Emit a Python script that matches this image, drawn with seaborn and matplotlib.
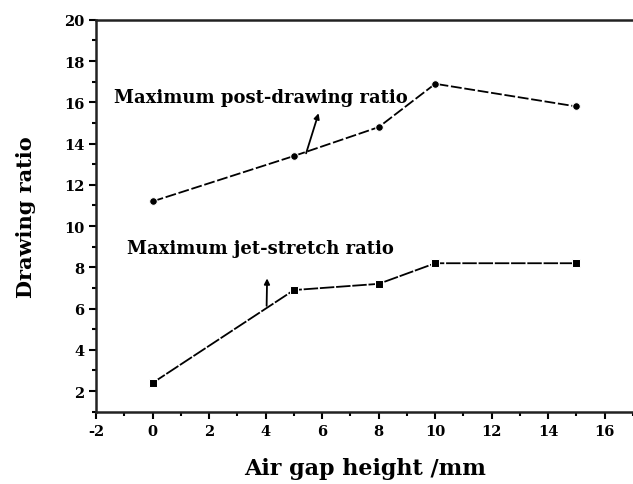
import pandas as pd
import seaborn as sns
import matplotlib.pyplot as plt
from matplotlib.ticker import MultipleLocator

air_gap = [0, 5, 8, 10, 15]
post_drawing = [11.2, 13.4, 14.8, 16.9, 15.8]
jet_stretch = [2.4, 6.9, 7.2, 8.2, 8.2]

df = pd.DataFrame({
    'gap': air_gap * 2,
    'ratio': post_drawing + jet_stretch,
    'series': ['post'] * len(air_gap) + ['jet'] * len(air_gap),
})

sns.set_style('ticks')
plt.rcParams['font.family'] = ['DejaVu Serif']
plt.rcParams['font.weight'] = 'bold'
plt.rcParams['axes.unicode_minus'] = False
plt.rcParams['text.color'] = 'black'
plt.rcParams['axes.labelcolor'] = 'black'
plt.rcParams['xtick.color'] = 'black'
plt.rcParams['ytick.color'] = 'black'

fig = plt.figure(figsize=(6.33, 4.85), dpi=100)
ax = fig.add_axes([0.152, 0.149, 0.848, 0.808])

sns.lineplot(data=df, x='gap', y='ratio', style='series', markers={'post': 'o', 'jet': 's'},
             dashes={'post': (6, 1.5), 'jet': (8, 1)}, color='black', ax=ax,
             markersize=5.5, linewidth=1.3, legend=False)

ax.set_xlim(-2, 17)
ax.set_ylim(1, 20)
ax.xaxis.set_major_locator(MultipleLocator(2))
ax.xaxis.set_minor_locator(MultipleLocator(1))
ax.yaxis.set_minor_locator(MultipleLocator(1))
ax.set_yticks([2, 4, 6, 8, 10, 12, 14, 16, 18, 20])
ax.tick_params(which='major', direction='out', length=5, width=1.5, labelsize=10.5)
ax.tick_params(which='minor', direction='out', length=3, width=1.5)
for s in ['left', 'bottom', 'top']:
    ax.spines[s].set_linewidth(1.8)
    ax.spines[s].set_color('#222222')
ax.spines['right'].set_visible(False)

ax.set_xlabel('Air gap height /mm', fontsize=16, fontweight='bold', labelpad=14)
ax.set_ylabel('Drawing ratio', fontsize=15, fontweight='bold', labelpad=20)

ax.annotate('', xy=(5.9, 15.6), xytext=(5.4, 13.4),
            arrowprops=dict(arrowstyle='-|>', color='black', lw=1.3, mutation_scale=8))
ax.text(-1.38, 16.25, 'Maximum post-drawing ratio', fontsize=13, fontweight='bold', va='center')
ax.annotate('', xy=(4.05, 7.6), xytext=(4.03, 6.0),
            arrowprops=dict(arrowstyle='-|>', color='black', lw=1.3, mutation_scale=8))
ax.text(-0.92, 8.96, 'Maximum jet-stretch ratio', fontsize=13, fontweight='bold', va='center')

fig.savefig('out.png', dpi=100)
